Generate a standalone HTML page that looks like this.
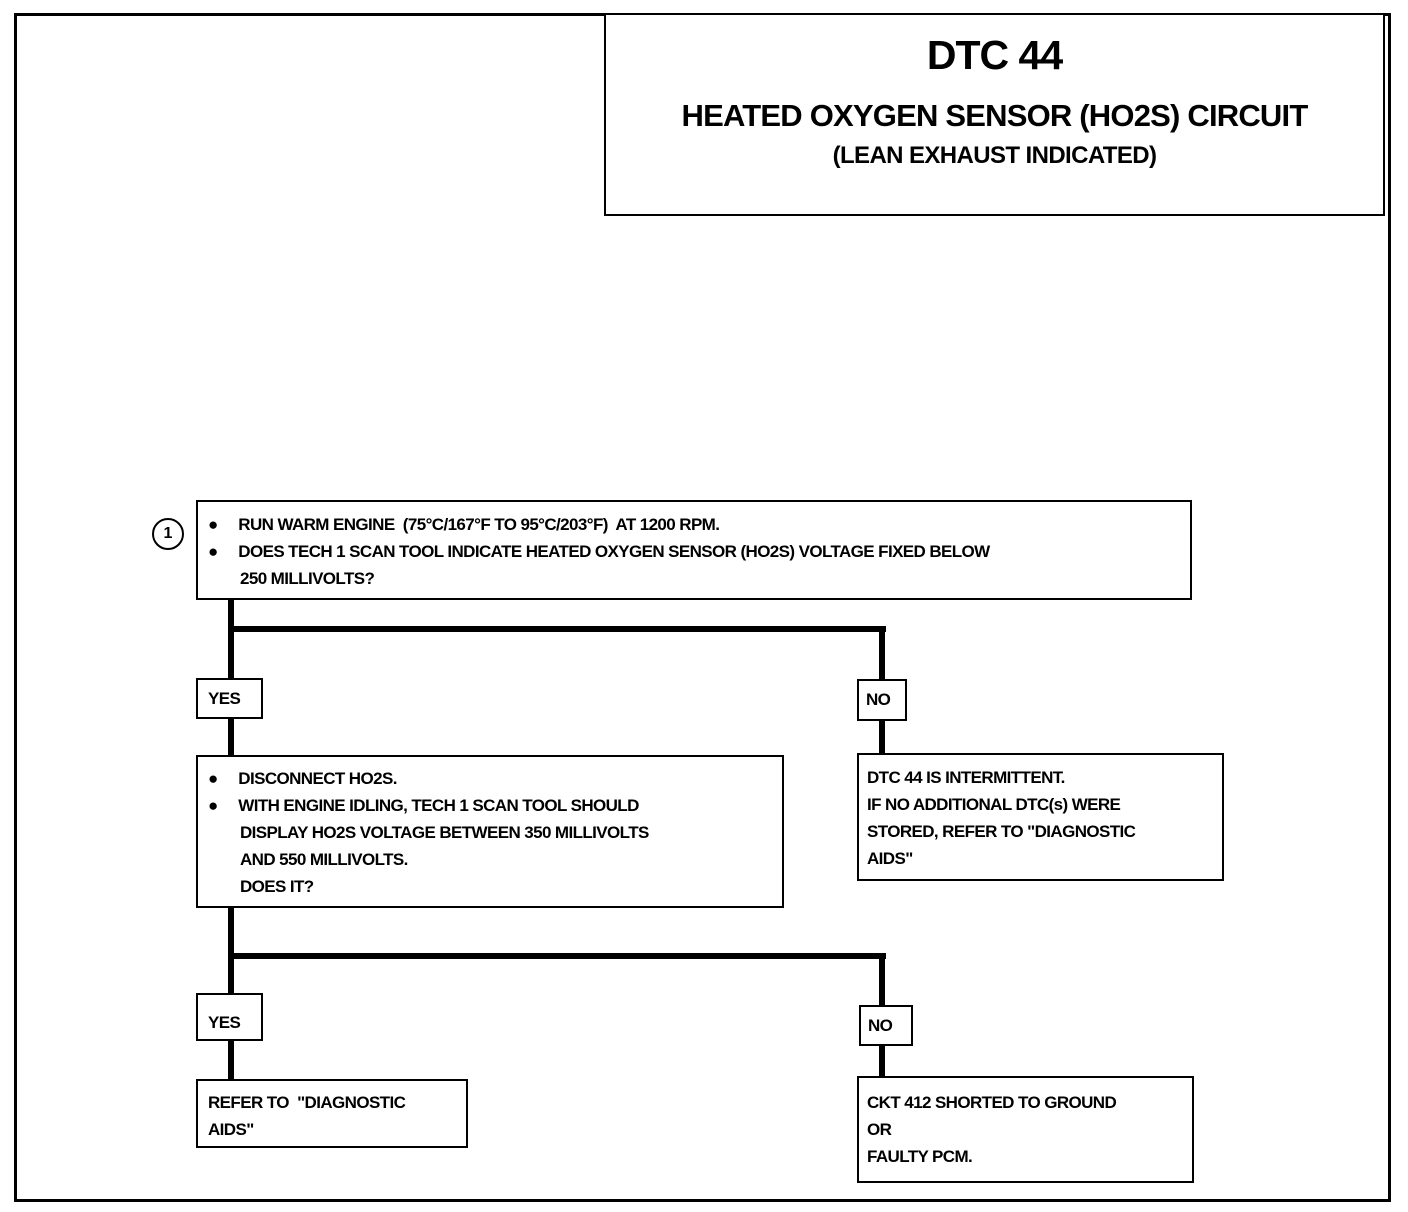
<!DOCTYPE html>
<html><head><meta charset="utf-8"><style>
body{margin:0;background:#fff;}
#c{position:relative;width:1408px;height:1212px;overflow:hidden;font-family:"Liberation Sans",sans-serif;font-weight:bold;color:#000;}
.b{position:absolute;border:2px solid #000;box-sizing:border-box;background:#fff;}
.t{position:absolute;font-size:17px;line-height:27px;white-space:nowrap;letter-spacing:-0.6px;}
.l{position:absolute;background:#000;}
</style></head><body><div id="c">
<div class="b" style="left:14px;top:13px;width:1377px;height:1189px;border-width:3px"></div>
<div class="b" style="left:604px;top:13px;width:781px;height:203px;"></div>
<div style="position:absolute;left:604px;width:781px;top:32px;text-align:center;font-size:41px;letter-spacing:-1px">DTC 44</div>
<div style="position:absolute;left:604px;width:781px;top:98px;text-align:center;font-size:31px;letter-spacing:-0.8px">HEATED OXYGEN SENSOR (HO2S) CIRCUIT</div>
<div style="position:absolute;left:604px;width:781px;top:142px;text-align:center;font-size:24px;letter-spacing:-0.6px">(LEAN EXHAUST INDICATED)</div>

<!-- connectors -->
<div class="l" style="left:228px;top:598px;width:6px;height:160px"></div>
<div class="l" style="left:228px;top:626px;width:658px;height:6px"></div>
<div class="l" style="left:879px;top:626px;width:6px;height:130px"></div>
<div class="l" style="left:228px;top:905px;width:6px;height:178px"></div>
<div class="l" style="left:228px;top:953px;width:658px;height:6px"></div>
<div class="l" style="left:879px;top:953px;width:6px;height:126px"></div>

<div style="position:absolute;left:152px;top:518px;width:32px;height:32px;border:2px solid #000;border-radius:50%;box-sizing:border-box;text-align:center;line-height:28px;font-size:16px">1</div>
<div class="b" style="left:196px;top:500px;width:996px;height:100px"></div>
<div class="t" style="left:208px;top:511px">●&nbsp;&nbsp;&nbsp;&nbsp;&nbsp;RUN WARM ENGINE&nbsp; (75°C/167°F TO 95°C/203°F)&nbsp; AT 1200 RPM.</div>
<div class="t" style="left:208px;top:538px">●&nbsp;&nbsp;&nbsp;&nbsp;&nbsp;DOES TECH 1 SCAN TOOL INDICATE HEATED OXYGEN SENSOR (HO2S) VOLTAGE FIXED BELOW</div>
<div class="t" style="left:240px;top:565px">250 MILLIVOLTS?</div>

<div class="b" style="left:196px;top:678px;width:67px;height:41px"></div>
<div class="t" style="left:208px;top:685px">YES</div>
<div class="b" style="left:857px;top:679px;width:50px;height:42px"></div>
<div class="t" style="left:866px;top:686px">NO</div>

<div class="b" style="left:196px;top:755px;width:588px;height:153px"></div>
<div class="t" style="left:208px;top:765px">●&nbsp;&nbsp;&nbsp;&nbsp;&nbsp;DISCONNECT HO2S.</div>
<div class="t" style="left:208px;top:792px">●&nbsp;&nbsp;&nbsp;&nbsp;&nbsp;WITH ENGINE IDLING, TECH 1 SCAN TOOL SHOULD</div>
<div class="t" style="left:240px;top:819px">DISPLAY HO2S VOLTAGE BETWEEN 350 MILLIVOLTS</div>
<div class="t" style="left:240px;top:846px">AND 550 MILLIVOLTS.</div>
<div class="t" style="left:240px;top:873px">DOES IT?</div>

<div class="b" style="left:857px;top:753px;width:367px;height:128px"></div>
<div class="t" style="left:867px;top:764px;line-height:27px">DTC 44 IS INTERMITTENT.<br>IF NO ADDITIONAL DTC(s) WERE<br>STORED, REFER TO "DIAGNOSTIC<br>AIDS"</div>

<div class="b" style="left:196px;top:993px;width:67px;height:48px"></div>
<div class="t" style="left:208px;top:1009px">YES</div>
<div class="b" style="left:859px;top:1005px;width:54px;height:41px"></div>
<div class="t" style="left:868px;top:1012px">NO</div>

<div class="b" style="left:196px;top:1079px;width:272px;height:69px"></div>
<div class="t" style="left:208px;top:1089px">REFER TO&nbsp; "DIAGNOSTIC<br>AIDS"</div>
<div class="b" style="left:857px;top:1076px;width:337px;height:107px"></div>
<div class="t" style="left:867px;top:1089px">CKT 412 SHORTED TO GROUND<br>OR<br>FAULTY PCM.</div>
</div></body></html>
